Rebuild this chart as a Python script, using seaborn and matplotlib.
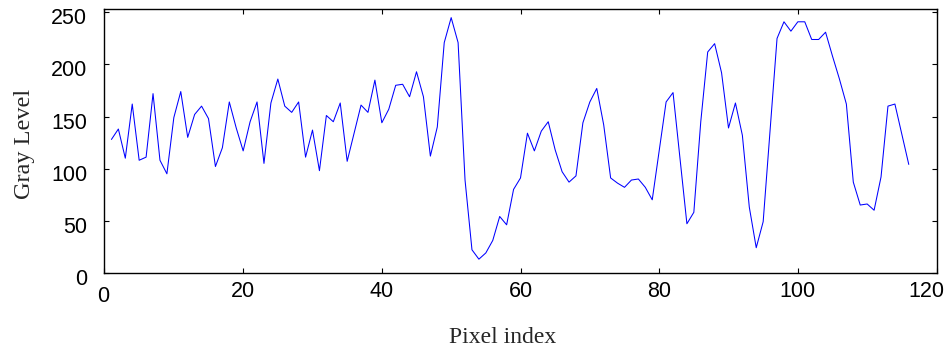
import numpy as np
import pandas as pd
import matplotlib
matplotlib.use("Agg")
import matplotlib.pyplot as plt
import matplotlib.transforms as mtransforms
import seaborn as sns

pixel_index = list(range(1, 117))
gray_level = [
    128, 138, 110, 162, 108, 111, 172, 108, 95, 149,
    174, 130, 152, 160, 148, 102, 120, 164, 139, 117,
    145, 164, 105, 163, 186, 160, 154, 164, 111, 137,
    98, 151, 145, 163, 107, 134, 161, 154, 185, 144,
    157, 180, 181, 169, 193, 169, 112, 140, 221, 245,
    221, 89, 22, 13, 19, 31, 54, 46, 80, 91,
    134, 117, 136, 145, 118, 97, 87, 93, 144, 164,
    177, 142, 91, 86, 82, 89, 90, 82, 70, 117,
    164, 173, 110, 47, 58, 145, 212, 220, 192, 139,
    163, 132, 63, 24, 49, 137, 225, 241, 232, 241,
    241, 224, 224, 231, 208, 186, 162, 87, 65, 66,
    60, 92, 160, 162, 133, 104,
]
x_ticks = [0, 20, 40, 60, 80, 100, 120]
y_ticks = [0, 50, 100, 150, 200, 250]
x_label = "Pixel index"
y_label = "Gray Level"

df = pd.DataFrame({"x": pixel_index, "y": gray_level})

sns.set_style("ticks")
plt.rcParams["font.family"] = ["Liberation Sans", "DejaVu Sans"]

fig = plt.figure(figsize=(9.53, 3.49), dpi=100)
ax = fig.add_axes([104.5 / 953, 1 - 272.7 / 349, 832 / 953, (272.7 - 9.3) / 349])

sns.lineplot(data=df, x="x", y="y", ax=ax, color="#0000ff", linewidth=0.75)

ax.set_xlim(0, 120)
ax.set_ylim(0, 253)
ax.set_xticks(x_ticks)
ax.set_yticks(y_ticks)
ax.set_xticklabels([str(t) for t in x_ticks])
ax.set_yticklabels([str(t) for t in y_ticks])

for s in ax.spines.values():
    s.set_visible(True)
    s.set_linewidth(1.0)
    s.set_color("black")

ax.tick_params(axis="both", which="both", direction="in", length=3.5, width=0.8,
               top=True, right=True, labelsize=15.5, colors="black")
ax.tick_params(axis="y", pad=12.5)
ax.tick_params(axis="x", pad=6)

offset = mtransforms.ScaledTranslation(0, -0.04, fig.dpi_scale_trans)
for lab in ax.get_yticklabels():
    lab.set_transform(lab.get_transform() + offset)

xlabs = ax.get_xticklabels()
xlabs[-1].set_transform(xlabs[-1].get_transform()
                        + mtransforms.ScaledTranslation(-0.1, 0, fig.dpi_scale_trans))
xlabs[0].set_transform(xlabs[0].get_transform()
                       + mtransforms.ScaledTranslation(-0.01, -0.05, fig.dpi_scale_trans))

serif = ["Liberation Serif", "DejaVu Serif"]
ax.set_xlabel(x_label, family=serif, fontsize=17)
ax.set_ylabel(y_label, family=serif, fontsize=17.5)
ax.xaxis.set_label_coords(0.479, -0.205)
ax.yaxis.set_label_coords(-0.083, 0.49)

fig.savefig("out.png", dpi=100)
